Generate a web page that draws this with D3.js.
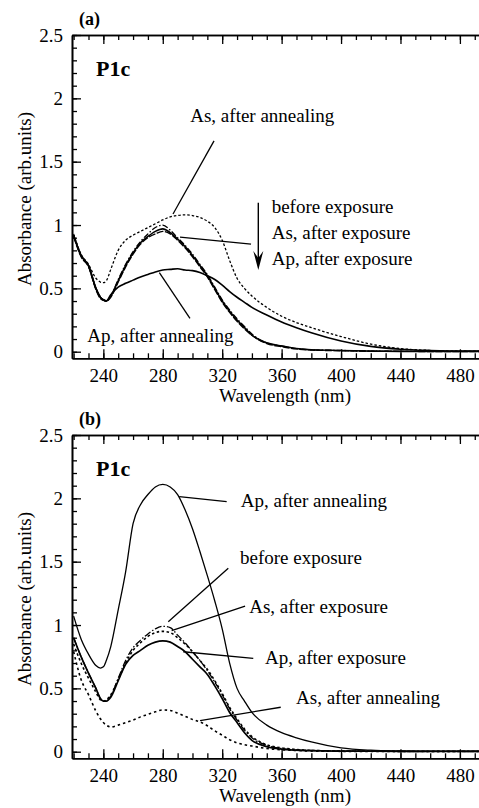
<!DOCTYPE html>
<html><head><meta charset="utf-8">
<script src="https://cdn.jsdelivr.net/npm/d3@7"></script>
<style>
html,body{margin:0;padding:0;background:#fff;}
svg{display:block;}
svg text{font-family:"Liberation Serif","Times New Roman",serif;}
</style></head>
<body>
<svg id="chart" width="479" height="808"></svg>
<script>
// ---------- DATA ----------
const wl = [220,225,230,235,238,240,242,245,250,255,260,265,270,275,280,285,290,295,300,305,310,315,320,325,330,335,340,350,360,370,380,400,420,440,460,480,494];

// Panel (a)
const aBefore   = [0.92,0.76,0.68,0.50,0.43,0.41,0.40,0.44,0.57,0.69,0.79,0.87,0.93,0.98,1.00,0.96,0.90,0.84,0.77,0.69,0.61,0.51,0.41,0.33,0.26,0.20,0.14,0.07,0.045,0.025,0.015,0.01,0.005,0.003,0.002,0.002,0.002];
const aAsExp    = [0.92,0.76,0.68,0.50,0.43,0.41,0.40,0.44,0.56,0.68,0.78,0.86,0.91,0.95,0.97,0.94,0.89,0.83,0.76,0.68,0.60,0.50,0.40,0.32,0.25,0.19,0.13,0.07,0.045,0.025,0.015,0.01,0.005,0.003,0.002,0.002,0.002];
const aApExp    = [0.91,0.75,0.67,0.49,0.42,0.405,0.40,0.43,0.55,0.67,0.77,0.85,0.90,0.93,0.95,0.93,0.88,0.82,0.75,0.67,0.59,0.49,0.39,0.31,0.24,0.18,0.13,0.065,0.04,0.022,0.013,0.008,0.004,0.003,0.002,0.002,0.002];
const aAsAnn    = [0.93,0.77,0.69,0.58,0.55,0.545,0.56,0.65,0.80,0.88,0.92,0.95,0.98,1.01,1.04,1.065,1.075,1.08,1.075,1.06,1.03,0.98,0.88,0.72,0.58,0.50,0.44,0.35,0.28,0.23,0.19,0.12,0.06,0.025,0.01,0.005,0.005];
const aApAnn    = [0.92,0.76,0.68,0.50,0.43,0.41,0.40,0.45,0.51,0.54,0.565,0.59,0.61,0.63,0.645,0.65,0.655,0.645,0.64,0.625,0.60,0.57,0.525,0.475,0.43,0.39,0.35,0.29,0.235,0.19,0.15,0.085,0.042,0.02,0.01,0.005,0.005];

// Panel (b)
const bApAnn    = [1.07,0.89,0.77,0.68,0.66,0.67,0.72,0.83,1.12,1.42,1.80,1.95,2.03,2.09,2.11,2.09,2.03,1.91,1.76,1.58,1.39,1.19,0.97,0.70,0.50,0.40,0.31,0.21,0.15,0.11,0.077,0.03,0.012,0.006,0.004,0.004,0.004];
const bBefore   = [0.90,0.75,0.62,0.50,0.42,0.40,0.40,0.44,0.58,0.72,0.82,0.88,0.93,0.97,0.99,0.98,0.92,0.86,0.79,0.72,0.64,0.55,0.45,0.34,0.25,0.17,0.11,0.05,0.025,0.015,0.01,0.006,0.004,0.003,0.003,0.003,0.003];
const bAsExp    = [0.85,0.70,0.58,0.47,0.41,0.40,0.41,0.45,0.57,0.70,0.80,0.86,0.91,0.94,0.95,0.94,0.90,0.85,0.79,0.72,0.65,0.56,0.46,0.35,0.26,0.18,0.12,0.055,0.03,0.018,0.01,0.006,0.004,0.003,0.003,0.003,0.003];
const bApExp    = [0.90,0.75,0.62,0.50,0.42,0.40,0.40,0.43,0.56,0.69,0.76,0.80,0.84,0.865,0.875,0.865,0.83,0.79,0.73,0.67,0.61,0.52,0.42,0.31,0.23,0.15,0.09,0.04,0.02,0.012,0.008,0.005,0.004,0.003,0.003,0.003,0.003];
const bAsAnn    = [0.79,0.57,0.45,0.32,0.26,0.23,0.21,0.195,0.21,0.23,0.25,0.275,0.295,0.315,0.33,0.325,0.305,0.28,0.255,0.235,0.205,0.165,0.13,0.095,0.07,0.055,0.045,0.025,0.015,0.01,0.005,0.003,0.002,0.002,0.002,0.002,0.002];

// Ticks
const xMajor = [240,280,320,360,400,440,480];
const xMinor = d3.range(220,495,10);
const yMajor = [0,0.5,1,1.5,2,2.5];
const yTickLabels = ["0","0.5","1","1.5","2","2.5"];
const yMinor = d3.range(0,2.51,0.1).map(v=>+v.toFixed(2));

// ---------- LAYOUT ----------
const svg = d3.select("#chart");
const L = 72, R = 481;
const FONT = 19;
const SERIF = "Liberation Serif, Times New Roman, serif";

function panel(top, tag, series, annotations){
  const bottom = top + 323.3;
  const x = d3.scaleLinear().domain([218.9, 494.2]).range([L, R]);
  const y = d3.scaleLinear().domain([-0.052, 2.5]).range([bottom, top]);
  const g = svg.append("g");

  // curves
  const line = d3.line().x(d=>x(d[0])).y(d=>y(d[1])).curve(d3.curveMonotoneX);
  series.forEach(s=>{
    g.append("path").datum(wl.map((w,i)=>[w,s.v[i]]))
      .attr("d", line).attr("fill","none").attr("stroke","#000")
      .attr("stroke-width", s.w).attr("stroke-dasharray", s.dash||null)
      .attr("stroke-linejoin","round");
  });

  // axes
  const styleAxis = sel=>{
    sel.attr("font-family",SERIF).attr("font-size",FONT);
    sel.selectAll("path.domain").attr("stroke","#000").attr("stroke-width",1.6);
    sel.selectAll(".tick line").attr("stroke","#000").attr("stroke-width",1.3);
    sel.selectAll("text").attr("font-size",FONT).attr("font-family",SERIF).attr("fill","#000");
  };
  // bottom
  g.append("g").attr("transform",`translate(0,${bottom})`)
    .call(d3.axisBottom(x).tickValues(xMinor).tickSizeInner(-5).tickSizeOuter(0).tickFormat(""))
    .call(styleAxis);
  g.append("g").attr("transform",`translate(0,${bottom})`)
    .call(d3.axisBottom(x).tickValues(xMajor).tickSizeInner(-9).tickSizeOuter(0).tickPadding(10).tickFormat(d3.format("d")))
    .call(styleAxis);
  // top
  g.append("g").attr("transform",`translate(0,${top})`)
    .call(d3.axisTop(x).tickValues(xMinor).tickSizeInner(-5).tickSizeOuter(0).tickFormat(""))
    .call(styleAxis);
  g.append("g").attr("transform",`translate(0,${top})`)
    .call(d3.axisTop(x).tickValues(xMajor).tickSizeInner(-9).tickSizeOuter(0).tickFormat(""))
    .call(styleAxis);
  // left
  g.append("g").attr("transform",`translate(${L},0)`)
    .call(d3.axisLeft(y).tickValues(yMinor).tickSizeInner(-5).tickSizeOuter(0).tickFormat(""))
    .call(styleAxis);
  g.append("g").attr("transform",`translate(${L},0)`)
    .call(d3.axisLeft(y).tickValues(yMajor).tickSizeInner(-9).tickSizeOuter(0).tickPadding(9)
      .tickFormat((d,i)=>yTickLabels[i]))
    .call(styleAxis);
  // right frame
  g.append("line").attr("x1",R).attr("x2",R).attr("y1",top).attr("y2",bottom).attr("stroke","#000").attr("stroke-width",1.6);

  // axis titles
  g.append("text").attr("x",285).attr("y",bottom+44).attr("text-anchor","middle")
    .attr("font-size",FONT).text("Wavelength (nm)");
  g.append("text").attr("transform",`translate(31,${top+164}) rotate(-90)`).attr("text-anchor","middle")
    .attr("font-size",FONT).text("Absorbance (arb.units)");

  // panel tag
  g.append("text").attr("x",79).attr("y",top-10).attr("font-size",18).attr("font-weight","bold").text(tag);
  g.append("text").attr("x",96).attr("y",top+41).attr("font-size",22).attr("font-weight","bold").text("P1c");

  // annotations
  annotations.forEach(a=>{
    if(a.text) g.append("text").attr("x",x(a.tx)).attr("y",y(a.ty)).attr("font-size",FONT).text(a.text);
    if(a.line) g.append("line").attr("x1",x(a.line[0])).attr("y1",y(a.line[1]))
      .attr("x2",x(a.line[2])).attr("y2",y(a.line[3])).attr("stroke","#000").attr("stroke-width",1.3);
  });
  return {x,y,g};
}

// Panel (a)
const pa = panel(35, "(a)", [
  {v:aAsAnn,  w:1.3, dash:"2.5,2"},
  {v:aBefore, w:1.3, dash:"6,2,1.5,2"},
  {v:aApExp,  w:1.4, dash:"7,1.5"},
  {v:aAsExp,  w:1.6},
  {v:aApAnn,  w:1.6}
],[
  {text:"As, after annealing", tx:298.5, ty:1.816, line:[314.5,1.664,286.9,1.087]},
  {text:"before exposure",     tx:353.3, ty:1.093},
  {text:"As, after exposure",  tx:353.3, ty:0.887},
  {text:"Ap, after exposure",  tx:353.3, ty:0.684, line:[291.6,0.905,339.4,0.850]},
  {text:"Ap, after annealing", tx:229.2, ty:0.074, line:[277.7,0.624,298.3,0.264]}
]);
// arrow in (a)
{
  const x=pa.x, y=pa.y, g=pa.g;
  const ax=x(344.3), y0=y(1.176), y1=y(0.645);
  g.append("line").attr("x1",ax).attr("x2",ax).attr("y1",y0).attr("y2",y1-8).attr("stroke","#000").attr("stroke-width",1.4);
  g.append("path").attr("d",`M${ax-5},${y1-19} L${ax},${y1} L${ax+5},${y1-19} L${ax},${y1-12} Z`).attr("fill","#000");
}

// Panel (b)
panel(435, "(b)", [
  {v:bAsAnn,  w:1.6, dash:"2.5,3"},
  {v:bAsExp,  w:1.6, dash:"2.5,2.5"},
  {v:bBefore, w:1.3, dash:"7,2,1.5,2"},
  {v:bApExp,  w:1.7},
  {v:bApAnn,  w:1.3}
],[
  {text:"Ap, after annealing", tx:332.5, ty:1.934, line:[291.1,2.013,323.0,1.974]},
  {text:"before exposure",     tx:332.0, ty:1.482, line:[324.1,1.448,283.7,1.026]},
  {text:"As, after exposure",  tx:338.2, ty:1.093, line:[335.4,1.150,286.0,0.955]},
  {text:"Ap, after exposure",  tx:348.8, ty:0.692, line:[340.9,0.737,293.8,0.789]},
  {text:"As, after annealing", tx:369.7, ty:0.377, line:[359.4,0.351,305.1,0.245]}
]);
</script>
</body></html>
